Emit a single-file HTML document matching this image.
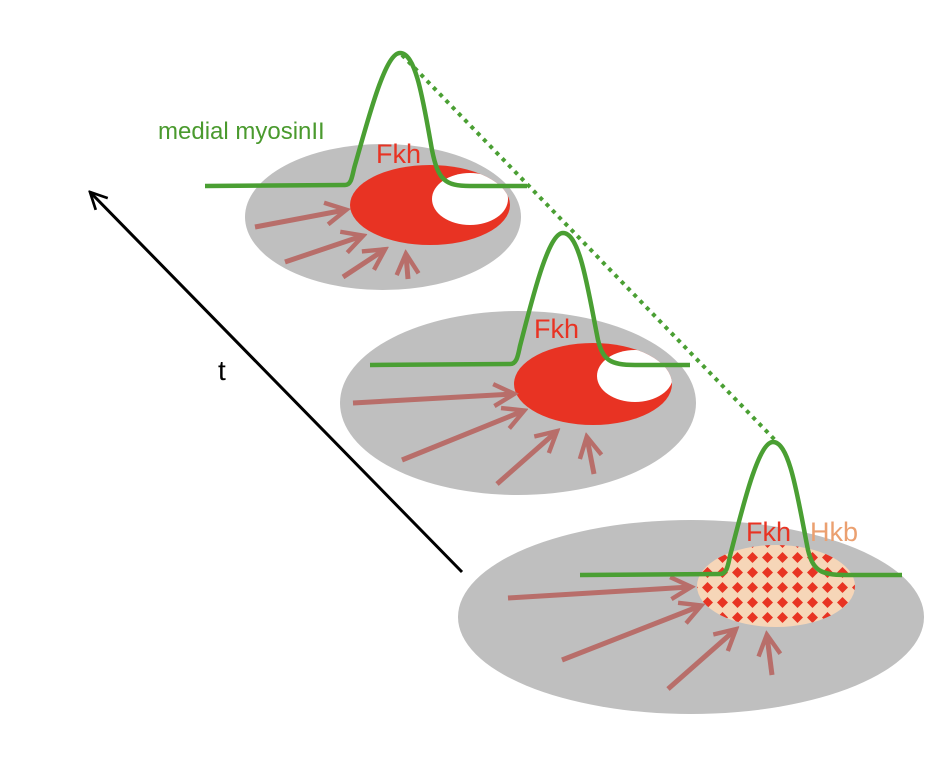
<!DOCTYPE html>
<html><head><style>body{margin:0;background:#fff}svg{display:block}</style></head><body>
<svg width="944" height="770" viewBox="0 0 944 770" xmlns="http://www.w3.org/2000/svg" font-family="Liberation Sans, sans-serif">
<defs>
<marker id="ah" viewBox="0 0 10 10" refX="8" refY="5" markerWidth="5.5" markerHeight="5.5" orient="auto" markerUnits="strokeWidth">
<path d="M1,1 L8.5,5 L1,9" fill="none" stroke="#b86e6a" stroke-width="1.6"/>
</marker>
<marker id="bh" viewBox="0 0 10 10" refX="9" refY="5" markerWidth="7" markerHeight="7" orient="auto" markerUnits="strokeWidth">
<path d="M1,1 L9,5 L1,9" fill="none" stroke="#000" stroke-width="1.3"/>
</marker>
<pattern id="ck" width="15" height="15" patternUnits="userSpaceOnUse" x="700" y="550">
<rect width="15" height="15" fill="#f6d6b8"/>
<path d="M7.5,2 L13,7.5 L7.5,13 L2,7.5Z" fill="#e83323"/>
</pattern>
<clipPath id="c1"><ellipse cx="430" cy="205" rx="80" ry="40"/></clipPath>
<clipPath id="c2"><ellipse cx="593" cy="384" rx="79" ry="41"/></clipPath>
</defs>

<line x1="462" y1="572" x2="90" y2="192" stroke="#000" stroke-width="3" marker-end="url(#bh)"/>
<text x="218" y="380" font-size="28">t</text>

<line x1="402" y1="55" x2="775" y2="440" stroke="#4a9f33" stroke-width="4" stroke-dasharray="4,5"/>

<ellipse cx="383" cy="217" rx="138" ry="73" fill="#bfbfbf"/>
<ellipse cx="430" cy="205" rx="80" ry="40" fill="#e83323"/>
<ellipse cx="470" cy="199" rx="38" ry="26" fill="#fff" clip-path="url(#c1)"/>
<g stroke="#b86e6a" stroke-width="5" marker-end="url(#ah)" fill="none">
<line x1="255" y1="227" x2="345" y2="210"/>
<line x1="285" y1="262" x2="362" y2="236"/>
<line x1="343" y1="277" x2="384" y2="250"/>
<line x1="408" y1="279" x2="406" y2="255"/>
</g>
<path d="M205,186 L345,185 C352,185 352,175 355,165 C368,120 385,53 400,53 C416,53 423,100 432,150 C438,180 445,186 470,186 L527,186" fill="none" stroke="#4a9f33" stroke-width="4.5"/>
<text x="158" y="139" font-size="24" fill="#4a9a2e">medial myosinII</text>
<text x="376" y="163" font-size="27" fill="#e83323">Fkh</text>

<ellipse cx="518" cy="403" rx="178" ry="92" fill="#bfbfbf"/>
<ellipse cx="593" cy="384" rx="79" ry="41" fill="#e83323"/>
<ellipse cx="635" cy="376" rx="38" ry="26" fill="#fff" clip-path="url(#c2)"/>
<g stroke="#b86e6a" stroke-width="5" marker-end="url(#ah)" fill="none">
<line x1="353" y1="403" x2="513" y2="394"/>
<line x1="402" y1="460" x2="523" y2="411"/>
<line x1="497" y1="484" x2="556" y2="432"/>
<line x1="594" y1="474" x2="587" y2="438"/>
</g>
<path d="M370,365 L510,364 C517,364 518,355 520,346 C532,300 548,233 563,233 C580,233 588,290 598,340 C603,360 610,365 635,365 L690,365" fill="none" stroke="#4a9f33" stroke-width="4.5"/>
<text x="534" y="338" font-size="27" fill="#e83323">Fkh</text>

<ellipse cx="691" cy="617" rx="233" ry="97" fill="#bfbfbf"/>
<ellipse cx="776" cy="586" rx="79" ry="41" fill="url(#ck)"/>
<g stroke="#b86e6a" stroke-width="5" marker-end="url(#ah)" fill="none">
<line x1="508" y1="598" x2="690" y2="587"/>
<line x1="562" y1="660" x2="700" y2="606"/>
<line x1="668" y1="689" x2="735" y2="630"/>
<line x1="772" y1="675" x2="767" y2="636"/>
</g>
<path d="M580,575 L720,574 C727,574 728,565 730,556 C742,510 758,442 773,442 C790,442 798,500 808,550 C813,570 820,575 845,575 L902,575" fill="none" stroke="#4a9f33" stroke-width="4.5"/>
<text x="746" y="541" font-size="27" fill="#e83323">Fkh</text>
<text x="810" y="541" font-size="27" fill="#eba070">Hkb</text>
</svg>
</body></html>
